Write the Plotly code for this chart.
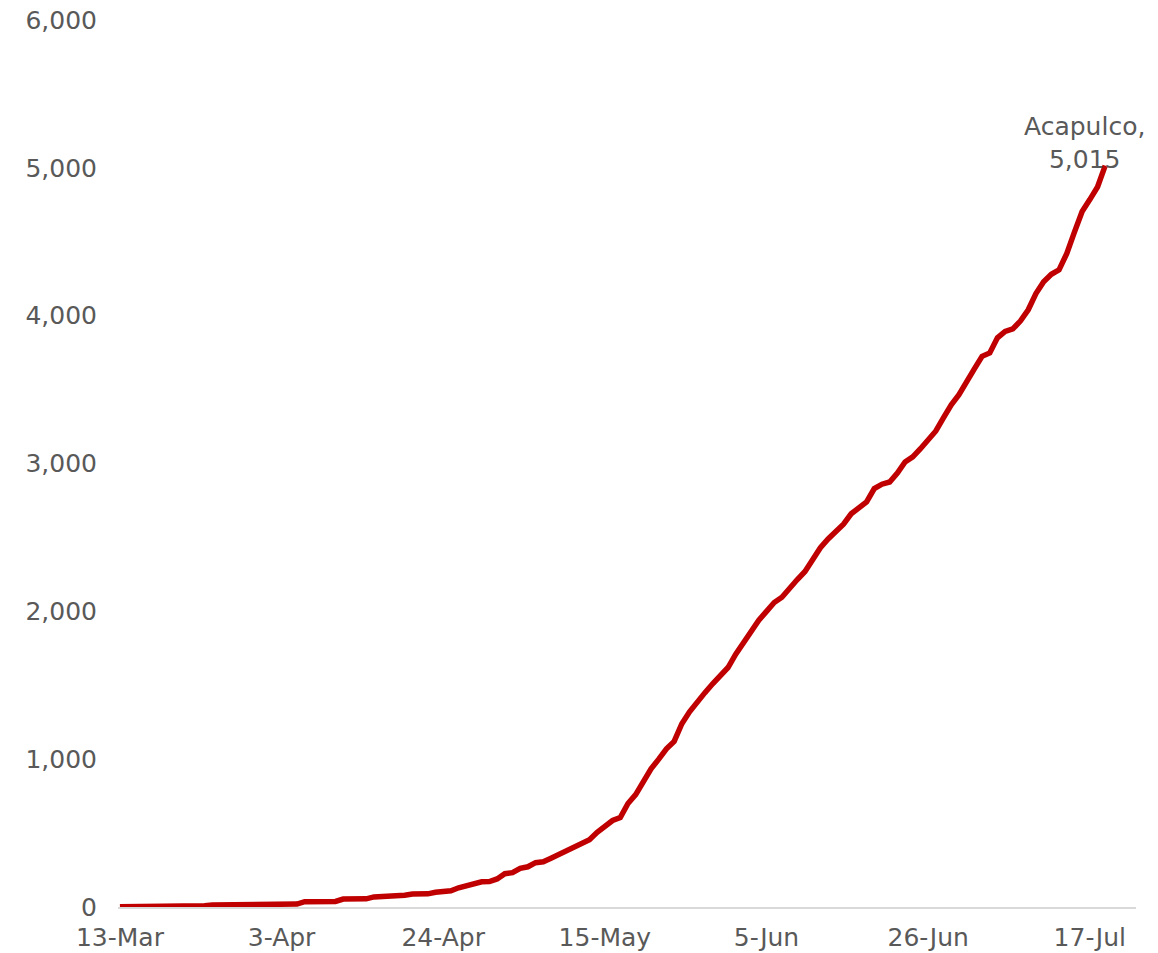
import plotly.graph_objects as go
import pandas as pd

start_date = "2020-03-13"
cases = [
    1, 1, 1, 1, 1, 1, 1, 2, 2, 3, 4,
    8, 13, 14, 14, 15, 15, 16, 16, 17, 18, 18, 19, 20,
    36, 36, 37, 37, 38, 54, 54, 55, 55, 68, 70, 70, 71, 80,
    88, 88, 89, 100, 106, 110, 130, 145, 160, 171, 172, 190,
    225, 232, 262, 272, 300, 306, 330, 355, 370, 400,
    425, 455, 505, 550, 585, 605, 700, 760, 850, 935,
    1000, 1070, 1120, 1240, 1320, 1390, 1450, 1510, 1565, 1620,
    1710, 1790, 1870, 1940, 2000, 2060, 2095, 2160, 2215, 2270,
    2350, 2430, 2490, 2540, 2590, 2660, 2705, 2740, 2830, 2860,
    2875, 2935, 3010, 3045, 3100, 3160, 3220, 3310, 3397, 3465,
    3545, 3640, 3725, 3748, 3850, 3893, 3910, 3965, 4040, 4150,
    4230, 4280, 4310, 4420, 4565, 4705, 4785, 4870, 5015,
]
dates = pd.date_range(start_date, periods=len(cases), freq="D")
series_name = "Acapulco"

font_family = "DejaVu Sans"
grey = "#595959"

fig = go.Figure()
fig.add_trace(go.Scatter(
    x=dates, y=cases, mode="lines", name=series_name,
    line=dict(color="#C00000", width=5.5), showlegend=False,
))

fig.add_annotation(
    x=dates[-1], y=cases[-1],
    text=f"{series_name},<br>{cases[-1]:,}",
    showarrow=False, xanchor="center", yanchor="bottom",
    xshift=-21, yshift=-10, align="center",
    font=dict(family=font_family, size=25, color=grey),
)

fig.update_layout(
    width=1158, height=953,
    margin=dict(l=118, r=22, t=20, b=46),
    paper_bgcolor="white", plot_bgcolor="white",
    font=dict(family=font_family, size=25, color=grey),
)
fig.update_xaxes(
    type="date", automargin=False,
    range=[pd.Timestamp("2020-03-12 18:00"), pd.Timestamp("2020-07-23 00:00")],
    tick0=start_date, dtick=21 * 86400000, tickformat="%-d-%b",
    showgrid=False, showline=True, linecolor="#D9D9D9", linewidth=2,
    ticks="", ticklabelstandoff=7, zeroline=False,
)
fig.update_yaxes(
    range=[0, 6000], dtick=1000, tickformat=",d", automargin=False,
    showgrid=False, showline=False, zeroline=False,
    ticks="", ticklabelstandoff=20, ticklabeloverflow="allow",
)

# remove the default 8px page margin so the figure fills the window exactly
fig.write_html(
    "out.html",
    config={"displayModeBar": False},
    post_script="document.body.style.margin='0';document.body.style.overflow='hidden';",
)
